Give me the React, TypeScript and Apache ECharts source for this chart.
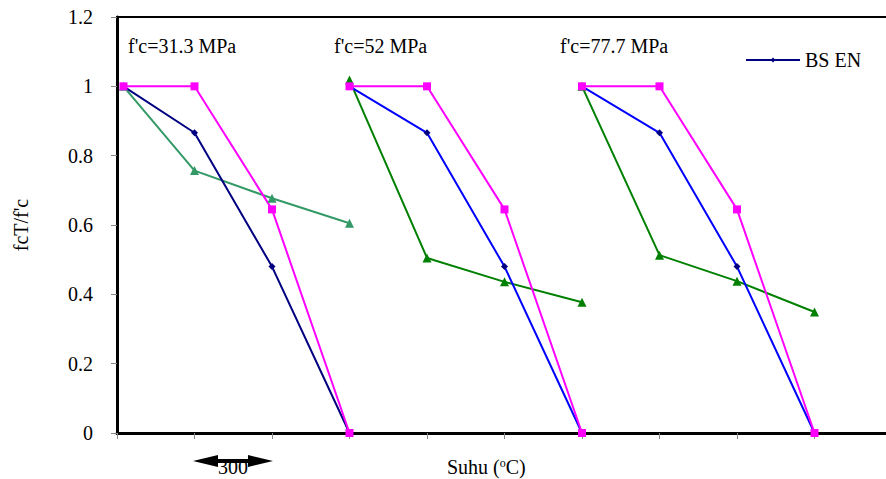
import React, { useEffect, useRef } from "react";
import * as echarts from "echarts";

const xG1 = [25, 300, 600, 900];
const xG2 = [900, 1200, 1500, 1800];
const xG3 = [1800, 2100, 2400, 2700];

const bsEn1 = [1, 0.866, 0.48, 0];
const mag1 = [1, 1, 0.645, 0];
const green1 = [1, 0.757, 0.677, 0.605];

const bsEn2 = [1, 0.866, 0.48, 0];
const mag2 = [1, 1, 0.645, 0];
const green2 = [1.018, 0.505, 0.436, 0.377];

const bsEn3 = [1, 0.866, 0.48, 0];
const mag3 = [1, 1, 0.645, 0];
const green3 = [1.0, 0.513, 0.438, 0.349];

const groupLabels = ["f'c=31.3 MPa", "f'c=52 MPa", "f'c=77.7 MPa"];
const yTicks = [0, 0.2, 0.4, 0.6, 0.8, 1, 1.2];

const FONT = "Liberation Serif";
const FS = 20;

function pairs(xs: number[], ys: number[]) {
  return xs.map((x, i) => [x, ys[i]]);
}

export default function App() {
  const ref = useRef<HTMLDivElement>(null);
  useEffect(() => {
    document.body.style.margin = "0";
    document.body.style.overflow = "hidden";
    const chart = echarts.init(ref.current!, undefined, { renderer: "svg" });
    const lineSeries = (
      name: string,
      xs: number[],
      ys: number[],
      color: string,
      symbol: string,
      size: number,
      symbolColor?: string
    ) => ({
      name,
      type: "line",
      data: pairs(xs, ys),
      symbol,
      symbolSize: size,
      lineStyle: { color, width: 2 },
      itemStyle: { color: symbolColor || color },
    });
    const txt = { fontFamily: FONT, fill: "#000" };
    chart.setOption({
      animation: false,
      backgroundColor: "#ffffff",
      textStyle: { fontFamily: FONT },
      grid: {
        left: 117,
        top: 17,
        bottom: 46,
        right: 0,
        show: true,
        borderColor: "#000",
        borderWidth: 2,
      },
      legend: {
        data: ["BS EN"],
        left: 740,
        top: 45,
        itemWidth: 54,
        itemHeight: 6,
        itemGap: 4,
        textStyle: { fontFamily: FONT, fontSize: FS, color: "#000" },
      },
      xAxis: {
        type: "value",
        min: 0,
        max: 3000,
        interval: 300,
        axisLine: { show: true, lineStyle: { color: "#000", width: 3 } },
        axisTick: { show: true, length: 6, lineStyle: { color: "#888", width: 1 } },
        axisLabel: { show: false },
        splitLine: { show: false },
      },
      yAxis: {
        type: "value",
        min: 0,
        max: 1.2,
        interval: 0.2,
        name: "fcT/f'c",
        nameLocation: "middle",
        nameGap: 86,
        nameRotate: 90,
        nameTextStyle: { fontFamily: FONT, fontSize: FS, color: "#000" },
        axisLine: { show: true, lineStyle: { color: "#000", width: 3 } },
        axisTick: { show: true, length: 6, lineStyle: { color: "#888", width: 1 } },
        axisLabel: {
          fontFamily: FONT,
          fontSize: FS,
          color: "#000",
          margin: 24,
          formatter: (v: number) => (yTicks.includes(Number(v.toFixed(1))) ? String(Number(v.toFixed(1))) : ""),
        },
        splitLine: { show: false },
      },
      series: [
        lineSeries("Green 1", xG1, green1, "#339966", "triangle", 9),
        lineSeries("BS EN", xG1, bsEn1, "#000080", "diamond", 7),
        lineSeries("Mag 1", xG1, mag1, "#ff00ff", "rect", 8),
        lineSeries("Green 2", xG2, green2, "#008000", "triangle", 9),
        lineSeries("BS EN 2", xG2, bsEn2, "#0000ff", "diamond", 7, "#000080"),
        lineSeries("Mag 2", xG2, mag2, "#ff00ff", "rect", 8),
        lineSeries("Green 3", xG3, green3, "#008000", "triangle", 9),
        lineSeries("BS EN 3", xG3, bsEn3, "#0000ff", "diamond", 7, "#000080"),
        lineSeries("Mag 3", xG3, mag3, "#ff00ff", "rect", 8),
      ],
      graphic: [
        { type: "text", left: 128, top: 36, style: { ...txt, text: groupLabels[0], fontSize: FS } },
        { type: "text", left: 334, top: 36, style: { ...txt, text: groupLabels[1], fontSize: FS } },
        { type: "text", left: 560, top: 36, style: { ...txt, text: groupLabels[2], fontSize: FS } },
        {
          type: "polygon",
          shape: { points: [[193, 461], [218, 455], [218, 467]] },
          style: { fill: "#000" },
        },
        {
          type: "polygon",
          shape: { points: [[273, 461], [248, 455], [248, 467]] },
          style: { fill: "#000" },
        },
        {
          type: "rect",
          shape: { x: 215, y: 459, width: 36, height: 4 },
          style: { fill: "#000" },
        },
        {
          type: "text",
          x: 233,
          y: 467,
          style: { ...txt, text: "300", fontSize: FS, align: "center", verticalAlign: "middle" },
        },
        {
          type: "text",
          x: 447,
          y: 457,
          style: {
            text: "{a|Suhu (}{b|o}{a|C)}",
            rich: {
              a: { fontFamily: FONT, fontSize: FS, fill: "#000" },
              b: { fontFamily: FONT, fontSize: 12, fill: "#000", verticalAlign: "top", padding: [0, 0, 7, 0] },
            },
          },
        },
      ],
    });
    return () => chart.dispose();
  }, []);
  return <div ref={ref} style={{ width: 892, height: 479 }} />;
}
